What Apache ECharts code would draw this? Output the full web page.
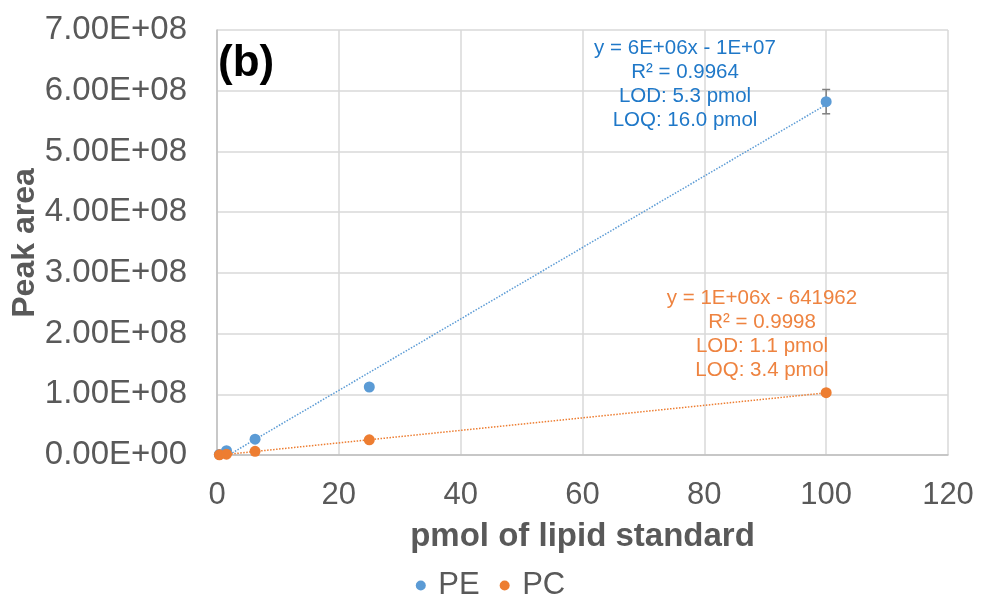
<!DOCTYPE html>
<html>
<head>
<meta charset="utf-8">
<script src="https://cdn.jsdelivr.net/npm/echarts@6/dist/echarts.min.js"></script>
<style>
  html, body { margin: 0; padding: 0; background: #fff; }
  #chart { width: 981px; height: 600px; }
</style>
</head>
<body>
<div id="chart"></div>
<script>
// pmol of lipid standard
var amounts = [0.39, 1.56, 6.25, 25, 100];
// peak areas
var peArea = [1.0e6, 7.0e6, 2.6e7, 1.12e8, 5.82e8];
var pcArea = [3.0e5, 1.3e6, 6.0e6, 2.5e7, 1.026e8];
// error bar at the last PE point (+/-)
var peErr = [0, 0, 0, 0, 2.0e7];
// trendline ends
var peTrend = [[0.39, -8.9e6], [100, 5.77e8]];
var pcTrend = [[0.39, -2.4e5], [100, 1.024e8]];
var peLabel = ['y = 6E+06x - 1E+07', 'R\u00b2 = 0.9964', 'LOD: 5.3 pmol', 'LOQ: 16.0 pmol'];
var pcLabel = ['y = 1E+06x - 641962', 'R\u00b2 = 0.9998', 'LOD: 1.1 pmol', 'LOQ: 3.4 pmol'];

var blue = '#5B9BD5', orange = '#ED7D31';
var font = '"Liberation Sans", Arial, sans-serif';

function pairs(xs, ys) {
    var out = [];
    for (var i = 0; i < xs.length; i++) out.push([xs[i], ys[i]]);
    return out;
}
var errData = [];
for (var i = 0; i < amounts.length; i++) {
    if (peErr[i] > 0) errData.push([amounts[i], peArea[i] - peErr[i], peArea[i] + peErr[i]]);
}

var myChart = echarts.init(document.getElementById('chart'));
var option = {
    animation: false,
    textStyle: { fontFamily: font },
    grid: { left: 217, right: 33, top: 30, bottom: 145, outerBoundsMode: 'none', containLabel: false },
    title: {
        text: '(b)', left: 218, top: 42, padding: 0,
        textStyle: { fontSize: 44, fontWeight: 'bold', color: '#000', fontFamily: font }
    },
    legend: {
        data: ['PE', 'PC'], top: 565, left: 'center',
        icon: 'circle', itemWidth: 25, itemHeight: 10, itemGap: 20,
        textStyle: { fontSize: 31, color: '#595959', fontFamily: font }
    },
    xAxis: {
        type: 'value', min: 0, max: 120, interval: 20,
        name: 'pmol of lipid standard', nameLocation: 'middle', nameGap: 65, nameMoveOverlap: false,
        nameTextStyle: { fontSize: 33, fontWeight: 'bold', color: '#595959' },
        axisLine: { lineStyle: { color: '#BFBFBF', width: 1.5 } },
        axisTick: { show: false },
        axisLabel: { fontSize: 31, color: '#595959', margin: 25 },
        splitLine: { lineStyle: { color: '#D9D9D9', width: 1.5 } }
    },
    yAxis: {
        type: 'value', min: 0, max: 7e8, interval: 1e8,
        axisLine: { show: true, lineStyle: { color: '#BFBFBF', width: 1.5 } },
        axisTick: { show: false },
        axisLabel: {
            fontSize: 33, color: '#595959', margin: 30,
            formatter: function (v) {
                return v === 0 ? '0.00E+00' : (v / 1e8).toFixed(2) + 'E+08';
            }
        },
        splitLine: { lineStyle: { color: '#D9D9D9', width: 1.5 } }
    },
    graphic: [
        {
            // y axis title
            type: 'text', x: 25, y: 243, rotation: Math.PI / 2, z: 100,
            style: { text: 'Peak area', textAlign: 'center', textVerticalAlign: 'middle',
                     fill: '#595959', font: 'bold 32px ' + font }
        },
        {
            type: 'text', x: 685, y: 36, z: 100,
            style: { text: peLabel.join('\n'), textAlign: 'center', fill: '#1F78C8',
                     font: '20.5px ' + font, lineHeight: 24 }
        },
        {
            type: 'text', x: 762, y: 286, z: 100,
            style: { text: pcLabel.join('\n'), textAlign: 'center', fill: '#EE8340',
                     font: '20.5px ' + font, lineHeight: 24 }
        }
    ],
    series: [
        {
            name: 'PE trend', type: 'line', data: peTrend, symbol: 'none', silent: true,
            lineStyle: { color: blue, width: 1.5, type: 'dotted' }, z: 1
        },
        {
            name: 'PC trend', type: 'line', data: pcTrend, symbol: 'none', silent: true,
            lineStyle: { color: orange, width: 1.5, type: 'dotted' }, z: 1
        },
        {
            name: 'PE err', type: 'custom', data: errData, z: 2,
            renderItem: function (params, api) {
                var lo = api.coord([api.value(0), api.value(1)]);
                var hi = api.coord([api.value(0), api.value(2)]);
                var s = { stroke: '#7F7F7F', lineWidth: 1.5 };
                return {
                    type: 'group', children: [
                        { type: 'line', shape: { x1: lo[0], y1: lo[1], x2: hi[0], y2: hi[1] }, style: s },
                        { type: 'line', shape: { x1: lo[0] - 4, y1: lo[1], x2: lo[0] + 4, y2: lo[1] }, style: s },
                        { type: 'line', shape: { x1: hi[0] - 4, y1: hi[1], x2: hi[0] + 4, y2: hi[1] }, style: s }
                    ]
                };
            }
        },
        {
            name: 'PE', type: 'scatter', data: pairs(amounts, peArea),
            symbolSize: 11, itemStyle: { color: blue, opacity: 1 }, z: 3
        },
        {
            name: 'PC', type: 'scatter', data: pairs(amounts, pcArea),
            symbolSize: 11, itemStyle: { color: orange, opacity: 1 }, z: 4
        }
    ]
};
myChart.setOption(option);
</script>
</body>
</html>
